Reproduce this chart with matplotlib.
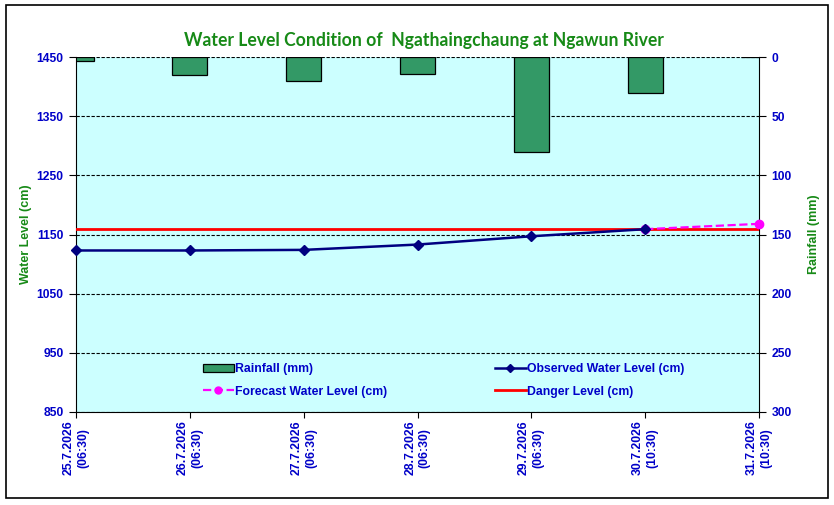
import matplotlib
matplotlib.use("Agg")
import matplotlib.pyplot as plt
from matplotlib.patches import Rectangle, Patch
from matplotlib.lines import Line2D

# === DATA ===
dates = ["25.7.2026\n(06:30)", "26.7.2026\n(06:30)", "27.7.2026\n(06:30)",
         "28.7.2026\n(06:30)", "29.7.2026\n(06:30)", "30.7.2026\n(10:30)",
         "31.7.2026\n(10:30)"]
rainfall_mm = [3.5, 15.5, 20.5, 14.5, 80.5, 30.5, 0]
observed_cm = [1123, 1123, 1124, 1133, 1147, 1159]
forecast_idx = [5, 6]
forecast_cm = [1159, 1168]
danger_cm = 1160

wl_ticks = [850, 950, 1050, 1150, 1250, 1350, 1450]
rain_ticks = [0, 50, 100, 150, 200, 250, 300]

BLUE = "#0000C8"
GREEN = "#178A17"
FONT = ["Liberation Sans", "DejaVu Sans"]
plt.rcParams["font.family"] = FONT

fig = plt.figure(figsize=(8.34, 5.05), dpi=100)
fig.patches.append(Rectangle((6 / 834, 1 - 498 / 505), 822 / 834, 493 / 505,
                             transform=fig.transFigure, fill=False,
                             edgecolor="black", linewidth=1.2))

x = list(range(len(dates)))
box = [76 / 834, 1 - 412 / 505, 683 / 834, 355 / 505]

# rainfall axis (back, with background + grid)
ax2 = fig.add_axes(box)
ax2.set_facecolor("#CCFFFF")
ax2.bar(x, rainfall_mm, width=0.31, color="#339966", edgecolor="black",
        linewidth=0.9, zorder=3)
ax2.set_ylim(300, 0)
ax2.set_yticks(rain_ticks)
ax2.yaxis.tick_right()
ax2.grid(axis="y", color="black", linestyle=(0, (3, 1.5)), linewidth=0.8, zorder=1)
ax2.set_axisbelow(True)
ax2.set_xlim(0, 6)
ax2.set_xticks([])
for s in ["left", "top", "bottom"]:
    ax2.spines[s].set_visible(False)
ax2.tick_params(axis="y", colors="black", labelcolor=BLUE, labelsize=8.7,
                direction="out", length=5, pad=4)
for t in ax2.get_yticklabels():
    t.set_fontweight("bold")
ax2.yaxis.set_label_position("right")
ax2.set_ylabel("Rainfall (mm)", color=GREEN, fontsize=9, fontweight="bold",
               labelpad=12)

# water level axis (front)
ax = fig.add_axes(box)
ax.patch.set_visible(False)
ax.plot([0, 6], [danger_cm, danger_cm], color="#FF0000", linewidth=2, zorder=4)
ax.plot(forecast_idx, forecast_cm, color="#FF00FF", linestyle="--", linewidth=1.6,
        marker="o", markersize=6, zorder=5, clip_on=False)
ax.plot(x[:len(observed_cm)], observed_cm, color="#000080", linewidth=1.8,
        marker="D", markersize=5.5, zorder=6, clip_on=False)
ax.set_xlim(0, 6)
ax.set_ylim(850, 1450)
ax.set_yticks(wl_ticks)
ax.set_xticks(x)
ax.set_xticklabels(dates, rotation=90, va="top", ha="center",
                   fontsize=8.8, fontweight="bold", color=BLUE, linespacing=1.3)
for t in ax.get_yticklabels():
    t.set_fontweight("bold")
ax.tick_params(axis="y", labelcolor=BLUE, labelsize=8.7, length=5, pad=4)
ax.tick_params(axis="x", length=4, pad=2)
ax.spines["top"].set_visible(False)
ax.spines["right"].set_visible(False)
ax.set_ylabel("Water Level (cm)", color=GREEN, fontsize=9, fontweight="bold",
              labelpad=3.5)

ax.set_title("Water Level Condition of  Ngathaingchaung at Ngawun River",
             color=GREEN, fontsize=12.7, fontweight="bold", family="Lato", pad=8,
             x=0.509)

handles = [
    Patch(facecolor="#339966", edgecolor="black", linewidth=0.9),
    Line2D([], [], color="#FF00FF", linestyle="--", linewidth=1.6, marker="o",
           markersize=5),
    Line2D([], [], color="#000080", linewidth=1.8, marker="D", markersize=4),
    Line2D([], [], color="#FF0000", linewidth=2),
]
labels = ["Rainfall (mm)", "Forecast Water Level (cm)",
          "Observed Water Level (cm)", "Danger Level (cm)"]
leg = ax.legend(handles, labels, ncol=2, loc="upper left",
                bbox_to_anchor=(0.186, 0.137), frameon=False, borderaxespad=0,
                borderpad=0, handlelength=2.5, handletextpad=0.15,
                columnspacing=8.8, labelspacing=0.85,
                prop={"size": 8.8, "weight": "bold", "family": FONT})
for t in leg.get_texts():
    t.set_color(BLUE)

fig.savefig("out.png", dpi=100)
